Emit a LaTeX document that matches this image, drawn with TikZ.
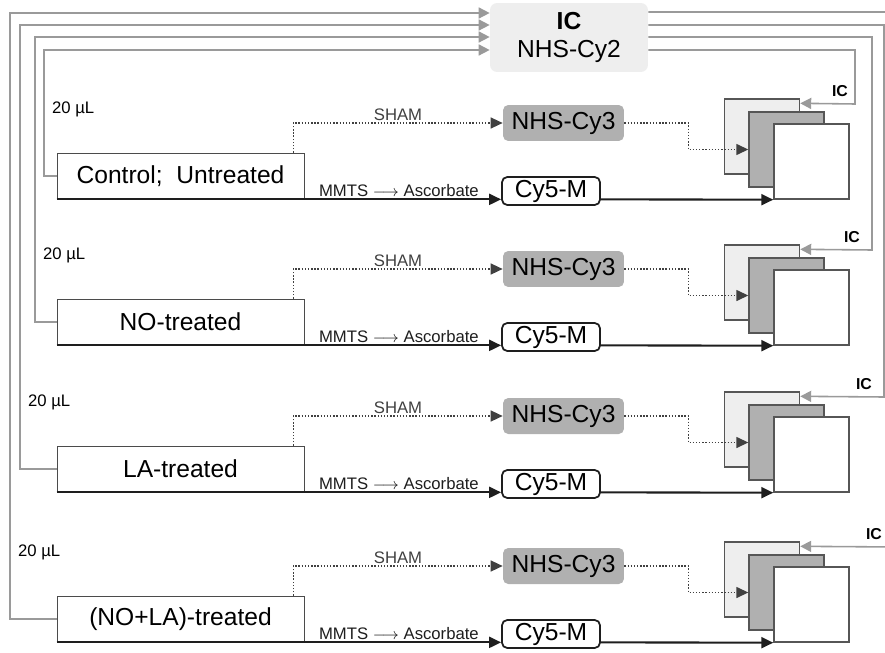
\documentclass[tikz,border=0pt]{standalone}
\usepackage{fontspec}
\setmainfont{Liberation Sans}
\usetikzlibrary{arrows.meta,positioning,calc}
\definecolor{wire}{HTML}{9A9A9A}
\definecolor{icfill}{HTML}{EEEEEE}
\definecolor{cythree}{HTML}{B0B0B0}
\definecolor{ink}{HTML}{1E1E1E}

\begin{document}
\begin{tikzpicture}[x=0.02cm,y=-0.02cm,
  sample/.style={draw=ink!80,fill=white,minimum width=4.94cm,minimum height=0.92cm,
                 inner sep=0pt,font=\fontsize{14}{16}\selectfont},
  icbox/.style={fill=icfill,rounded corners=4pt,minimum width=3.16cm,minimum height=1.38cm,
                align=center,inner sep=0pt,font=\fontsize{14}{15.5}\selectfont},
  nhs/.style={fill=cythree,rounded corners=3pt,minimum width=2.42cm,minimum height=0.72cm,
              inner sep=0pt,font=\fontsize{14}{16}\selectfont},
  cyfive/.style={draw=ink,line width=1pt,fill=white,rounded corners=3pt,minimum width=1.96cm,
                 minimum height=0.56cm,inner sep=0pt,font=\fontsize{14}{16}\selectfont},
  sheet/.style={draw=ink!75,line width=0.8pt,minimum size=1.5cm,inner sep=0pt},
  lbl/.style={font=\fontsize{9.5}{11}\selectfont,inner sep=1pt},
  tag/.style={font=\fontsize{9}{11}\selectfont\bfseries,inner sep=1pt},
  wireln/.style={wire,line width=0.9pt},
  giv/.style={wireln,-{Triangle[length=2.2mm,width=2.2mm]}},
  dots/.style={ink!85,densely dotted,line width=0.8pt,-{Triangle[length=2.4mm,width=2.2mm]}},
  thk/.style={ink,line width=1.2pt,-{Triangle[length=2.4mm,width=2.2mm]}}]
\useasboundingbox (0,0) rectangle (885,652);
\clip (0,0) rectangle (885,652);
\node[icbox] (ic) at (569,37.5) {\textbf{IC}\\NHS-Cy2};
% one row per sample: bottom line y / feed x / feed y / IC route x / IC out y / IC tag x
\foreach \L/\fx/\fy/\rx/\oy/\tx/\name/\k in {199/44/50/855/50/850/{Control;\ \ Untreated}/1,
    345/35/37/872/37/862/{NO-treated}/2, 492/20/25/884/25/874/{LA-treated}/3,
    642/10/13/897/12/884/{(NO+LA)-treated}/4}{
  \node[sample] (s\k) at (180.5,\L-23) {\name};
  \node[nhs] (n\k) at (563.5,\L-76) {NHS-Cy3};
  \node[cyfive] (c\k) at (551,\L-8) {Cy5-M};
  \node[sheet,fill=icfill] (b\k) at (762,\L-62.5) {};
  \node[sheet,fill=cythree] (m\k) at (786.5,\L-49.5) {};
  \node[sheet,fill=white] (f\k) at (811.5,\L-37.5) {};
  \node[lbl,anchor=west] (v\k) at (\fx+6,\L-90) {20 µL};
  \node[tag,anchor=south east] (t\k) at (\tx,\L-100) {IC};
  \draw[giv] (s\k.west) -| (\fx,\fy) -- (ic.west |- 0,\fy);
  \draw[giv] (ic.east |- 0,\oy) -| (\rx,\L-95) -- ([yshift=-0.1cm]b\k.north east);
  \draw[dots] ([xshift=-0.22cm]s\k.north east) |- node[lbl,pos=0.75,above=0pt] (h\k) {SHAM} (n\k.west);
  \draw[dots] (n\k.east) -- ++(64,0) |- (m\k.west);
  \draw[thk] (s\k.south west) -- node[lbl,pos=0.77,above=0pt] (a\k) {MMTS $\longrightarrow$ Ascorbate} (c\k.west |- s\k.south);
  \draw[thk] (c\k.east |- s\k.south) -- (f\k.south west);
}
\end{tikzpicture}
\end{document}
